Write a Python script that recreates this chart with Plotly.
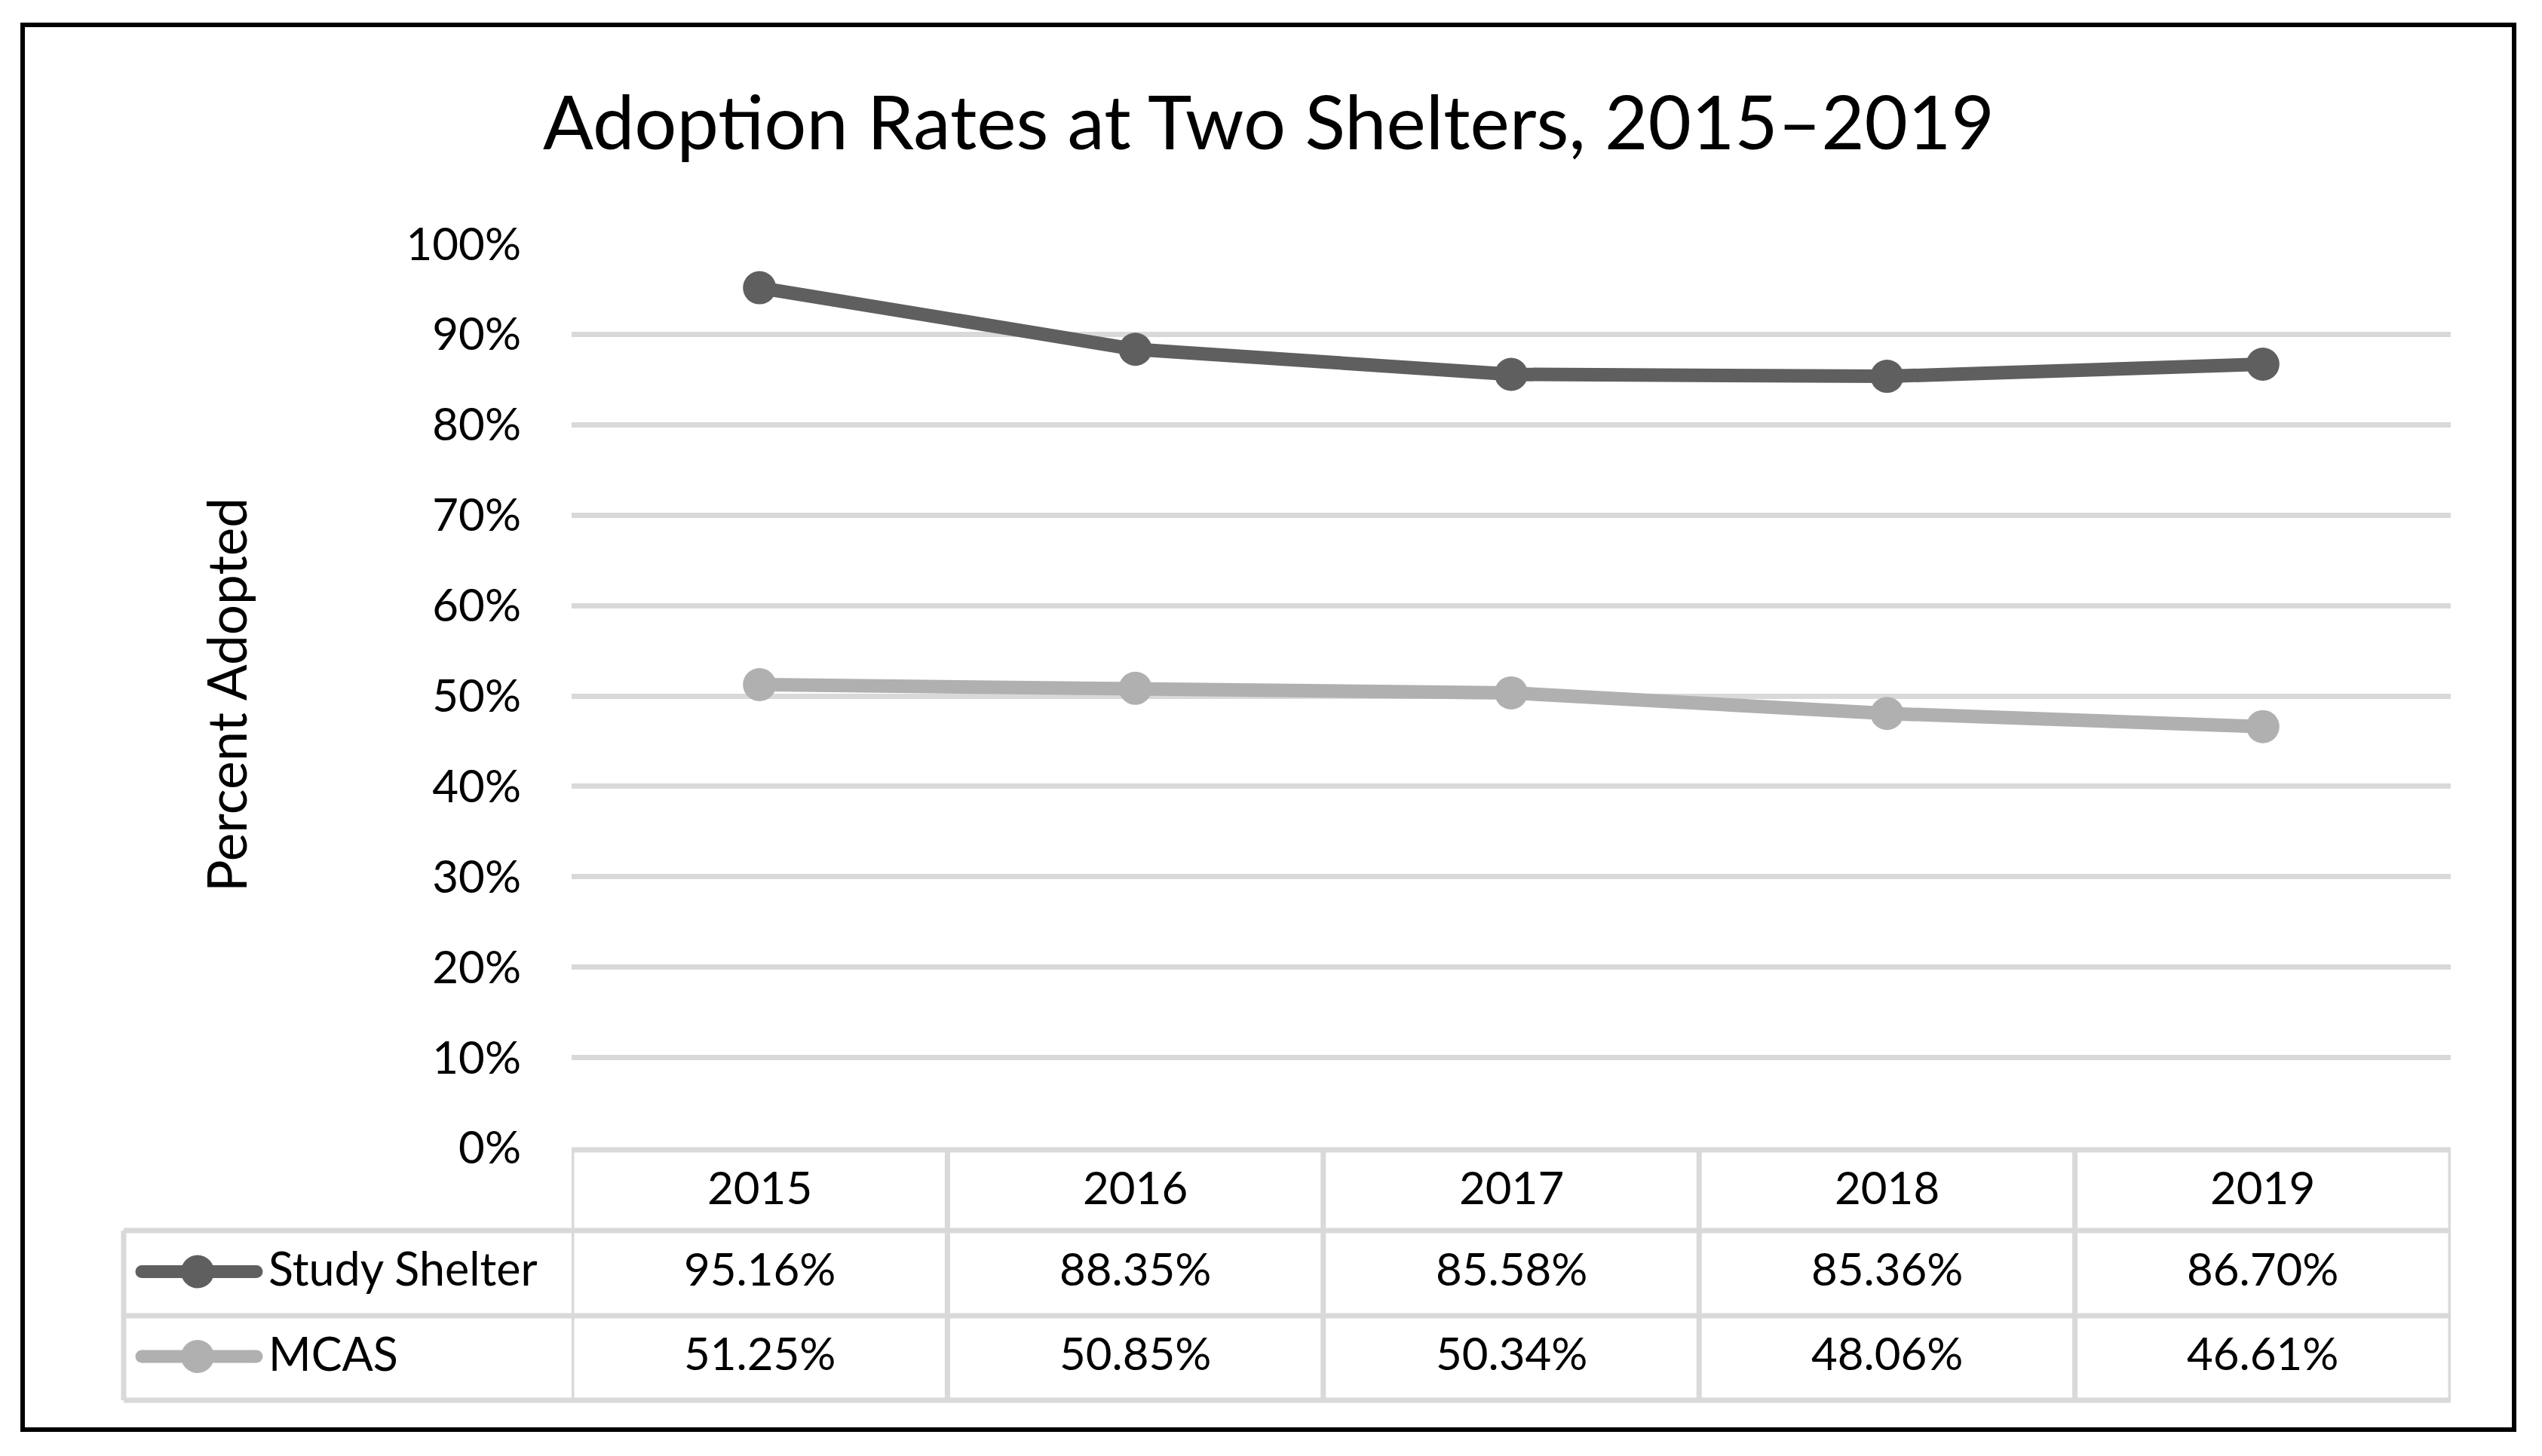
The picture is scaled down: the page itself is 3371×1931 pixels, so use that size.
import plotly.graph_objects as go

# ---- data ----
years = ["2015", "2016", "2017", "2018", "2019"]
study_shelter = [95.16, 88.35, 85.58, 85.36, 86.70]
mcas = [51.25, 50.85, 50.34, 48.06, 46.61]
series_names = ["Study Shelter", "MCAS"]
y_ticks = [0, 10, 20, 30, 40, 50, 60, 70, 80, 90, 100]
y_tick_labels = [f"{t}%" for t in y_ticks]
title_text = "Adoption Rates at Two Shelters, 2015–2019"
y_title = "Percent Adopted"

# ---- style ----
W, H = 3371, 1931
FONT = "Lato"
DARK = "#5f5f5f"
LIGHT = "#b0b0b0"
GRID = "#d9d9d9"
colors = [DARK, LIGHT]


def px(x):
    return x / W


def py(y):
    return 1 - y / H


plot_left, plot_right = 758, 3250
plot_top, plot_bottom = 323, 1523

fig = go.Figure()
xs = list(range(len(years)))
for name, vals, col in zip(series_names, [study_shelter, mcas], colors):
    fig.add_trace(go.Scatter(
        x=xs, y=[v / 100 for v in vals], mode="lines+markers", name=name,
        line=dict(color=col, width=18),
        marker=dict(color=col, size=44),
        showlegend=False, cliponaxis=False,
    ))

shapes = []
annotations = []

# outer border
shapes.append(dict(type="rect", xref="paper", yref="paper",
                   x0=px(30), x1=px(3334), y0=py(33), y1=py(1896),
                   line=dict(color="black", width=6), fillcolor="rgba(0,0,0,0)"))

# data table
row_lines = [1525, 1632, 1745, 1857]
leg_left = 164
tw = 7
shapes.append(dict(type="line", xref="x", yref="paper", x0=-0.5, x1=len(years) - 0.5,
                   y0=py(row_lines[0]), y1=py(row_lines[0]), line=dict(color=GRID, width=tw)))
for yl in row_lines[1:]:
    shapes.append(dict(type="line", xref="paper", yref="paper", x0=px(leg_left), x1=px(plot_right),
                       y0=py(yl), y1=py(yl), line=dict(color=GRID, width=tw)))
for i in range(len(years) + 1):
    shapes.append(dict(type="line", xref="x", yref="paper", x0=i - 0.5, x1=i - 0.5,
                       y0=py(row_lines[0]), y1=py(row_lines[-1]), line=dict(color=GRID, width=tw)))
shapes.append(dict(type="line", xref="paper", yref="paper", x0=px(leg_left), x1=px(leg_left),
                   y0=py(row_lines[1]), y1=py(row_lines[-1]), line=dict(color=GRID, width=tw)))

header_y = (row_lines[0] + row_lines[1]) / 2
row_ys = [(row_lines[1] + row_lines[2]) / 2, (row_lines[2] + row_lines[3]) / 2]

for i, yr in enumerate(years):
    annotations.append(dict(x=i, y=py(header_y - 5), xref="x", yref="paper", text=yr,
                            showarrow=False, font=dict(family=FONT, size=60, color="black"),
                            xanchor="center", yanchor="middle"))
for vals, ry in zip([study_shelter, mcas], row_ys):
    for i, v in enumerate(vals):
        annotations.append(dict(x=i, y=py(ry - 7), xref="x", yref="paper", text=f"{v:.2f}%",
                                showarrow=False, font=dict(family=FONT, size=60, color="black"),
                                xanchor="center", yanchor="middle"))

# legend keys (line with round caps + marker)
for name, col, ry in zip(series_names, colors, row_ys):
    ky = ry - 2
    shapes.append(dict(type="line", xref="paper", yref="paper", x0=px(188), x1=px(340),
                       y0=py(ky), y1=py(ky), line=dict(color=col, width=17)))
    for cx in (188, 340):
        shapes.append(dict(type="circle", xref="paper", yref="paper",
                           x0=px(cx - 8.5), x1=px(cx + 8.5), y0=py(ky + 8.5), y1=py(ky - 8.5),
                           fillcolor=col, line=dict(color=col, width=0)))
    shapes.append(dict(type="circle", xref="paper", yref="paper",
                       x0=px(262 - 22), x1=px(262 + 22), y0=py(ky + 22), y1=py(ky - 22),
                       fillcolor=col, line=dict(color=col, width=0)))
    annotations.append(dict(x=px(354), y=py(ry - 7), xref="paper", yref="paper", text=name,
                            showarrow=False, font=dict(family=FONT, size=61, color="black"),
                            xanchor="left", yanchor="middle"))

annotations.append(dict(x=px(1682), y=py(160), xref="paper", yref="paper", text=title_text,
                        showarrow=False, font=dict(family=FONT, size=99, color="black"),
                        xanchor="center", yanchor="middle"))
annotations.append(dict(x=px(300), y=py(922), xref="paper", yref="paper", text=y_title,
                        showarrow=False, textangle=-90,
                        font=dict(family=FONT, size=71, color="black"),
                        xanchor="center", yanchor="middle"))

fig.update_layout(
    template="none",
    width=W, height=H, autosize=False,
    margin=dict(l=0, r=0, t=0, b=0, pad=0, autoexpand=False),
    paper_bgcolor="white", plot_bgcolor="white",
    xaxis=dict(domain=[px(plot_left), px(plot_right)], range=[-0.5, len(years) - 0.5],
               showticklabels=False, showgrid=False, zeroline=False, showline=False,
               automargin=False, fixedrange=True),
    yaxis=dict(domain=[py(plot_bottom), py(plot_top)], range=[-0.0005, 1.0005],
               tickvals=[t / 100 for t in y_ticks], ticktext=y_tick_labels,
               showgrid=True, gridcolor=GRID, gridwidth=7, zeroline=False, showline=False,
               ticks="", ticklabelstandoff=66, automargin=False,
               tickfont=dict(family=FONT, size=60, color="black"), fixedrange=True),
    shapes=shapes,
    annotations=annotations,
)

fig.write_html("out.html", post_script="document.body.style.margin='0';",
               config={"displayModeBar": False})
